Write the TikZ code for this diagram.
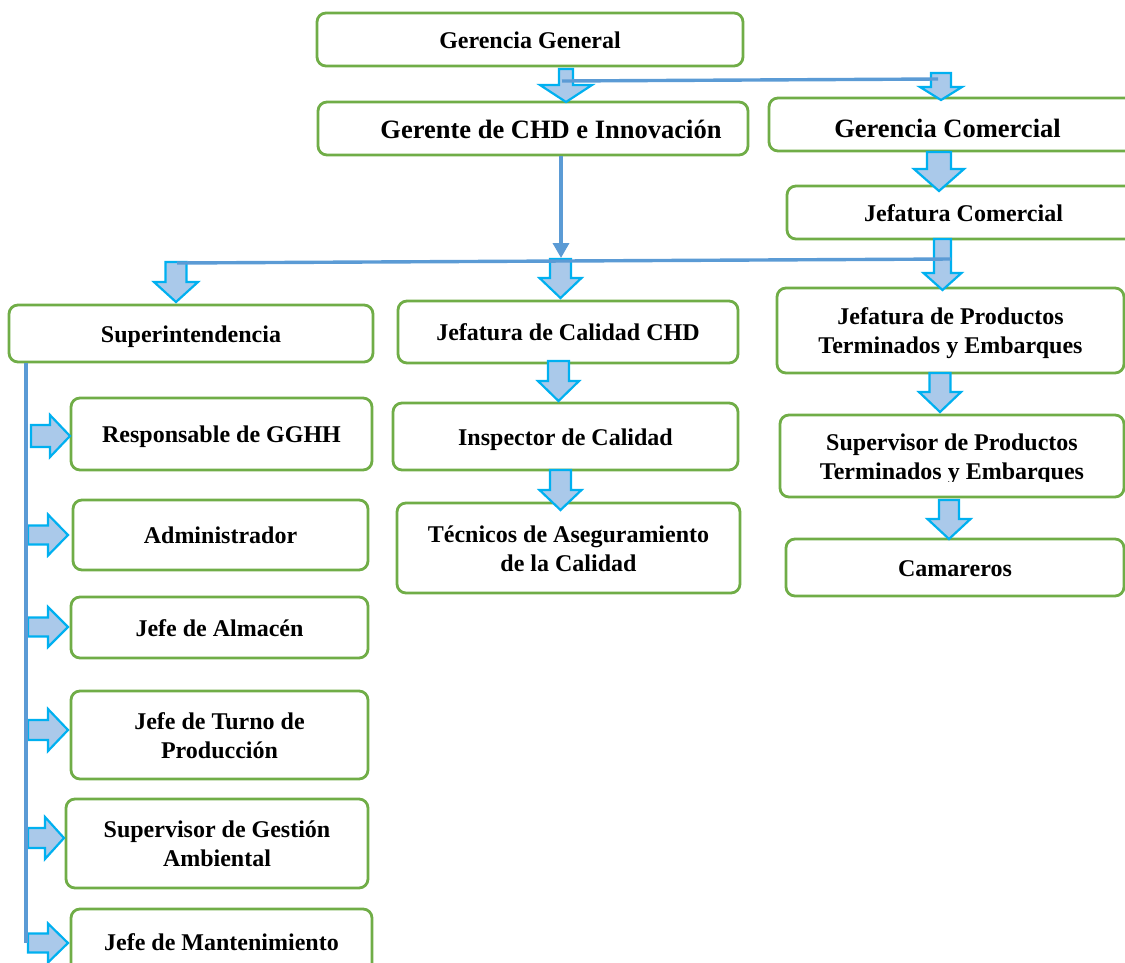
\documentclass[tikz,border=0pt]{standalone}
\usepackage{fontspec}
\setmainfont{Liberation Serif}
\usetikzlibrary{arrows.meta}
\definecolor{boxgreen}{RGB}{112,173,71}
\definecolor{connblue}{RGB}{91,155,213}
\definecolor{arrfill}{RGB}{170,201,234}
\definecolor{arrline}{RGB}{0,176,240}
\newcommand\mys{\rule[-0.22em]{0pt}{1.16em}}
% name, x1, y1, x2, y2, text
\newcommand\OrgBox[6]{\node[orgbox, minimum width={(#4-#2)*1pt}, minimum height={(#5-#3)*1pt}] (#1) at ({(#2+#4)/2},{(#3+#5)/2}) {#6};}
% cx, top, headstart, tip, shafthalf, headhalf
\newcommand\DownArrow[6]{\draw[blockarrow] ({#1-#5},#2) -- ({#1+#5},#2) -- ({#1+#5},#3) -- ({#1+#6},#3) -- (#1,#4) -- ({#1-#6},#3) -- ({#1-#5},#3) -- cycle;}
% cy, left, headstart, tip, shafthalf, headhalf
\newcommand\RightArrow[6]{\draw[blockarrow] (#2,{#1-#5}) -- (#3,{#1-#5}) -- (#3,{#1-#6}) -- (#4,#1) -- (#3,{#1+#6}) -- (#3,{#1+#5}) -- (#2,{#1+#5}) -- cycle;}
\begin{document}
\begin{tikzpicture}[x=1pt,y=-1pt,
  orgbox/.style={draw=boxgreen, line width=2.8pt, rounded corners=9pt, fill=white, inner sep=0pt,
    font=\fontsize{24}{27}\selectfont\bfseries, align=center},
  orgtext/.style={inner sep=0pt, font=\fontsize{24}{27}\selectfont\bfseries, align=center},
  bigtext/.style={font=\fontsize{26.5}{30}\selectfont\bfseries},
  blockarrow/.style={draw=arrline, fill=arrfill, line width=2.2pt},
  conn/.style={draw=connblue, line width=3.4pt}]
\useasboundingbox (0,0) rectangle (1125,962);
\clip (0,0) rectangle (1125,962);
% boxes
\OrgBox{gg}{317}{13}{743}{66}{\mys Gerencia General}
\OrgBox{gerente}{318}{102}{748}{155}{}
\node[orgtext,bigtext] at (gerente.center) {\hspace*{36pt}\mys Gerente de CHD e Innovación};
\OrgBox{gcom}{769}{98}{1140}{151}{}
\node[orgtext,bigtext] at (gcom.center) {\mys\raisebox{-3pt}{Gerencia Comercial}\hspace*{14pt}};
\OrgBox{jcom}{787}{186}{1140}{239}{\mys Jefatura Comercial}
\OrgBox{supi}{9}{305}{373}{362}{\mys Superintendencia}
\OrgBox{jcal}{398}{301}{738}{363}{\mys Jefatura de Calidad CHD}
\OrgBox{jprod}{777}{288}{1124}{373}{\mys Jefatura de Productos\\ Terminados y Embarques\mys}
\OrgBox{resp}{71}{398}{372}{470}{\mys Responsable de GGHH}
\OrgBox{insp}{393}{403}{738}{470}{\mys Inspector de Calidad}
\OrgBox{tec}{397}{503}{740}{593}{\mys Técnicos de Aseguramiento\\ de la Calidad\mys}
\OrgBox{supp}{780}{415}{1124}{497}{}
\begin{scope}
  \clip (780,415) rectangle (1124,481);
  \node[orgtext] at (supp.center) {\mys Supervisor de Productos\\ Terminados y Embarques\mys};
\end{scope}
\OrgBox{cam}{786}{539}{1124}{596}{\mys Camareros}
\OrgBox{adm}{73}{500}{368}{570}{\mys Administrador}
\OrgBox{alm}{71}{597}{368}{658}{\mys Jefe de Almacén}
\OrgBox{turno}{71}{691}{368}{779}{\mys Jefe de Turno de\\ Producción\mys}
\OrgBox{gest}{66}{799}{368}{888}{\mys Supervisor de Gestión\\ Ambiental\mys}
\OrgBox{mant}{71}{909}{372}{975}{\mys Jefe de Mantenimiento}
% block arrows down
\DownArrow{566}{69}{85}{102}{7}{26}
\DownArrow{941}{73}{87}{100}{10}{21}
\DownArrow{939}{152}{169}{191}{12}{25}
\DownArrow{176}{262}{282}{302}{10.5}{22}
\DownArrow{560.5}{259}{278}{298}{10.5}{21}
\DownArrow{942.5}{239}{273}{290}{8.5}{19}
\DownArrow{558.5}{361}{381}{401}{10.5}{20.5}
\DownArrow{560.5}{470}{490}{510}{10.5}{21}
\DownArrow{940}{373}{392}{412}{10.5}{21}
\DownArrow{949}{500}{519}{539}{10}{21.5}
% block arrows right
\RightArrow{436}{31}{50}{70}{11}{21}
\RightArrow{535}{28}{48}{68}{9.5}{20.5}
\RightArrow{627}{28}{48}{68}{9.5}{20}
\RightArrow{730}{28}{48}{68}{10}{21}
\RightArrow{838}{28}{45}{64}{10}{21}
\RightArrow{943}{28}{48}{68}{9.5}{19.5}
% connectors
\coordinate (t1) at (562,81);
\coordinate (t2) at (938,79);
\draw[conn] (t1) -- (t2);
\coordinate (m1) at (561,258);
\draw[conn, -{Triangle[width=16pt,length=15pt]}] (gerente.south -| m1) -- (m1);
\coordinate (h1) at (177,263);
\coordinate (h2) at (951,259);
\draw[conn] (h1) -- (h2);
\coordinate (v2) at (26,943);
\draw[conn] (supi.south -| v2) -- (v2);
\end{tikzpicture}
\end{document}
